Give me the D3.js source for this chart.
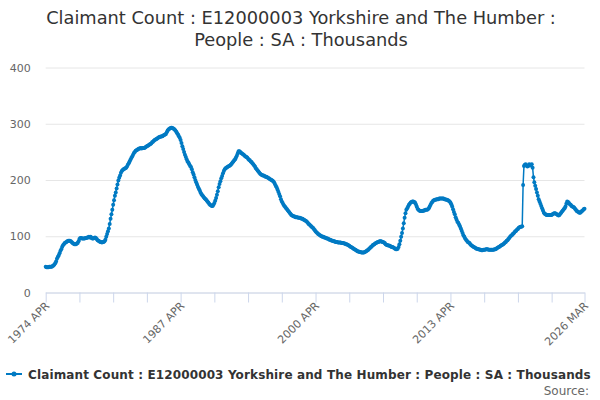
<!DOCTYPE html>
<html>
<head>
<meta charset="utf-8">
<script src="https://cdn.jsdelivr.net/npm/d3@7"></script>
<style>
  body { margin: 0; background: #fff; }
  svg { font-family: "DejaVu Sans", sans-serif; }
</style>
</head>
<body>
<div id="chart"></div>
<script>
// monthly series, 1974 APR .. 2026 MAR (thousands)
const startYear = 1974, startMonth = 3;
const claimant = [
  46, 45, 45, 45, 46, 46, 46, 46, 47,                    // 1974 apr-dec
  48, 50, 52, 55, 60, 63, 66, 70, 74, 77, 81, 84,        // 1975
  86, 88, 89, 90, 91, 92, 92, 92, 91, 90, 88, 87,        // 1976
  86, 86, 86, 87, 88, 91, 95, 97, 97, 96, 96, 96,        // 1977
  96, 97, 97, 98, 98, 99, 98, 99, 97, 96, 96, 97,        // 1978
  98, 97, 95, 93, 92, 91, 90, 90, 89, 90, 90, 91,        // 1979
  94, 99, 104, 109, 114, 122, 131, 139, 147, 156, 164, 172, // 1980
  178, 185, 192, 199, 204, 208, 213, 216, 218, 219, 220, 221, // 1981
  222, 224, 227, 230, 233, 236, 239, 242, 245, 248, 250, 252, // 1982
  253, 254, 255, 256, 256, 257, 256, 257, 257, 257, 258, 259, // 1983
  260, 261, 262, 263, 264, 265, 267, 268, 270, 271, 272, 273, // 1984
  274, 275, 276, 277, 277, 278, 278, 279, 280, 281, 282, 285, // 1985
  288, 290, 291, 292, 293, 293, 292, 291, 290, 288, 286, 283, // 1986
  281, 278, 275, 271, 266, 260, 255, 250, 245, 241, 237, 233, // 1987
  231, 228, 225, 223, 219, 214, 210, 205, 200, 196, 192, 188, // 1988
  185, 182, 178, 175, 173, 171, 169, 167, 166, 164, 162, 160, // 1989
  158, 156, 155, 154, 154, 156, 159, 163, 168, 174, 180, 187, // 1990
  193, 198, 203, 207, 212, 216, 219, 221, 222, 223, 224, 225, // 1991
  226, 227, 229, 231, 233, 235, 237, 240, 243, 247, 251, 251, // 1992
  250, 248, 247, 246, 245, 243, 242, 241, 240, 238, 236, 235, // 1993
  233, 232, 230, 228, 226, 224, 221, 219, 217, 215, 213, 211, // 1994
  210, 209, 208, 208, 207, 206, 206, 205, 204, 203, 202, 201, // 1995
  200, 199, 198, 196, 193, 190, 187, 183, 179, 175, 171, 166, // 1996
  162, 159, 156, 154, 152, 150, 148, 146, 144, 142, 140, 138, // 1997
  137, 136, 135, 135, 134, 134, 134, 133, 133, 133, 132, 131, // 1998
  131, 130, 129, 128, 127, 126, 124, 122, 121, 119, 118, 116, // 1999
  115, 113, 111, 109, 107, 106, 104, 103, 102, 101, 100, 99,  // 2000
  99, 98, 98, 97, 96, 96, 95, 94, 94, 93, 92, 92,        // 2001
  91, 91, 90, 90, 90, 89, 89, 89, 89, 88, 88, 88,        // 2002
  87, 87, 86, 86, 85, 84, 83, 82, 81, 80, 79, 78,        // 2003
  77, 76, 75, 74, 73, 73, 72, 72, 71, 71, 71, 71,        // 2004
  72, 73, 74, 75, 76, 78, 79, 81, 82, 84, 85, 86,        // 2005
  87, 88, 89, 90, 90, 91, 91, 91, 90, 90, 89, 88,        // 2006
  86, 85, 84, 84, 83, 83, 82, 81, 81, 80, 79, 78,        // 2007
  77, 77, 78, 81, 86, 92, 99, 106, 114, 123, 133, 141,   // 2008
  147, 150, 153, 156, 158, 160, 161, 162, 162, 161, 160, 157, // 2009
  153, 149, 147, 146, 145, 145, 145, 145, 146, 146, 147, 147, // 2010
  147, 148, 150, 153, 156, 159, 161, 163, 164, 165, 165, 166, // 2011
  166, 166, 167, 167, 167, 167, 167, 167, 166, 166, 165, 165, // 2012
  164, 163, 162, 160, 157, 153, 148, 143, 139, 134, 130, 126, // 2013
  124, 121, 118, 114, 110, 106, 102, 99, 96, 94, 92, 90, // 2014
  89, 88, 86, 84, 83, 82, 81, 80, 79, 78, 78, 77,        // 2015
  77, 76, 76, 75, 75, 76, 76, 76, 77, 77, 77, 76,        // 2016
  76, 76, 76, 76, 76, 76, 77, 77, 78, 79, 80, 81,        // 2017
  82, 83, 84, 85, 86, 87, 89, 90, 92, 93, 95, 97,        // 2018
  99, 101, 102, 104, 105, 107, 109, 110, 112, 113, 115, 116, // 2019
  117, 117, 118, 191, 225, 227, 228, 226, 224, 225, 228, 227, // 2020
  226, 228, 222, 205, 196, 190, 184, 178, 172, 166, 162, 158, // 2021
  154, 150, 146, 142, 140, 139, 138, 138, 138, 138, 138, 138, // 2022
  138, 139, 140, 141, 141, 140, 139, 138, 137, 138, 140, 142, // 2023
  144, 146, 148, 150, 153, 158, 162, 161, 159, 157, 156, 154, // 2024
  153, 152, 151, 149, 147, 145, 144, 143, 142, 142, 143, 145, // 2025
  146, 148, 149                                          // 2026 jan-mar
];
const monthNames = ["JAN","FEB","MAR","APR","MAY","JUN","JUL","AUG","SEP","OCT","NOV","DEC"];
const categories = claimant.map((v, i) => {
  const m = startMonth + i;
  return (startYear + Math.floor(m / 12)) + " " + monthNames[m % 12];
});
const tickLabels = ["1974 APR", "1987 APR", "2000 APR", "2013 APR", "2026 MAR"];
const yTicks = [0, 100, 200, 300, 400];

const seriesName = "Claimant Count : E12000003 Yorkshire and The Humber : People : SA : Thousands";
const titleLines = ["Claimant Count : E12000003 Yorkshire and The Humber :", "People : SA : Thousands"];

const W = 600, H = 400;
const margin = {top: 67.5, right: 15.5, bottom: 107.5, left: 45.7};
const color = "#007ac3";

const svg = d3.select("#chart").append("svg")
    .attr("width", W).attr("height", H);

// title
svg.append("text")
    .attr("x", W / 2 + 1).attr("y", 24)
    .attr("text-anchor", "middle")
    .style("font-size", "17.8px").style("fill", "#333333")
    .selectAll("tspan").data(titleLines).enter().append("tspan")
    .attr("x", W / 2 + 1).attr("dy", (d, i) => i ? 22 : 0)
    .text(d => d);

const x = d3.scaleLinear()
    .domain([0, claimant.length - 1])
    .range([margin.left, W - margin.right]);
const y = d3.scaleLinear()
    .domain([0, 400])
    .range([H - margin.bottom, margin.top]);

// gridlines + y labels
const yAxis = svg.append("g")
    .attr("transform", `translate(${margin.left},0)`)
    .call(d3.axisLeft(y).tickValues(yTicks).tickSize(-(W - margin.left - margin.right)).tickPadding(15));
yAxis.select(".domain").remove();
yAxis.selectAll(".tick line").attr("stroke", "#e6e6e6");
yAxis.selectAll(".tick text")
    .style("font-size", "11px").style("fill", "#666666")
    .style("font-family", "DejaVu Sans, sans-serif");

// x axis: tick every 39 months, label every 156
const tickIdx = d3.range(0, claimant.length, 39).concat([claimant.length - 1]);
const labelIdx = tickLabels.map(t => categories.indexOf(t));
const xAxis = svg.append("g")
    .attr("transform", `translate(0,${H - margin.bottom})`)
    .call(d3.axisBottom(x).tickValues(tickIdx).tickSize(10).tickSizeOuter(0)
        .tickFormat(i => labelIdx.includes(i) ? categories[i] : ""));
xAxis.select(".domain").attr("stroke", "#ccd6eb");
xAxis.selectAll(".tick line").attr("stroke", "#ccd6eb");
xAxis.selectAll(".tick text")
    .style("font-size", "11px").style("fill", "#666666")
    .style("font-family", "DejaVu Sans, sans-serif")
    .attr("text-anchor", "end")
    .attr("dy", null).attr("y", 0)
    .attr("transform", "translate(4,14) rotate(-45)");

// line + markers
const line = d3.line()
    .x((d, i) => x(i))
    .y(d => y(d));
svg.append("path")
    .datum(claimant)
    .attr("fill", "none")
    .attr("stroke", color)
    .attr("stroke-width", 1.5)
    .attr("d", line);
svg.append("g").selectAll("circle")
    .data(claimant).enter().append("circle")
    .attr("cx", (d, i) => x(i))
    .attr("cy", d => y(d))
    .attr("r", 2)
    .attr("fill", color);

// legend
const lg = svg.append("g").attr("transform", "translate(6,374)");
lg.append("line").attr("x1", 0).attr("x2", 16).attr("y1", 0).attr("y2", 0)
    .attr("stroke", color).attr("stroke-width", 2);
lg.append("circle").attr("cx", 8).attr("cy", 0).attr("r", 2.5).attr("fill", color);
lg.append("text").attr("x", 22).attr("y", 4.5)
    .style("font-size", "12px").style("font-weight", "bold").style("fill", "#333333")
    .style("letter-spacing", "0.13px")
    .text(seriesName);

// credits
svg.append("text")
    .attr("x", 589).attr("y", 395)
    .attr("text-anchor", "end")
    .style("font-size", "12px").style("fill", "#666666")
    .text("Source:");
</script>
</body>
</html>
